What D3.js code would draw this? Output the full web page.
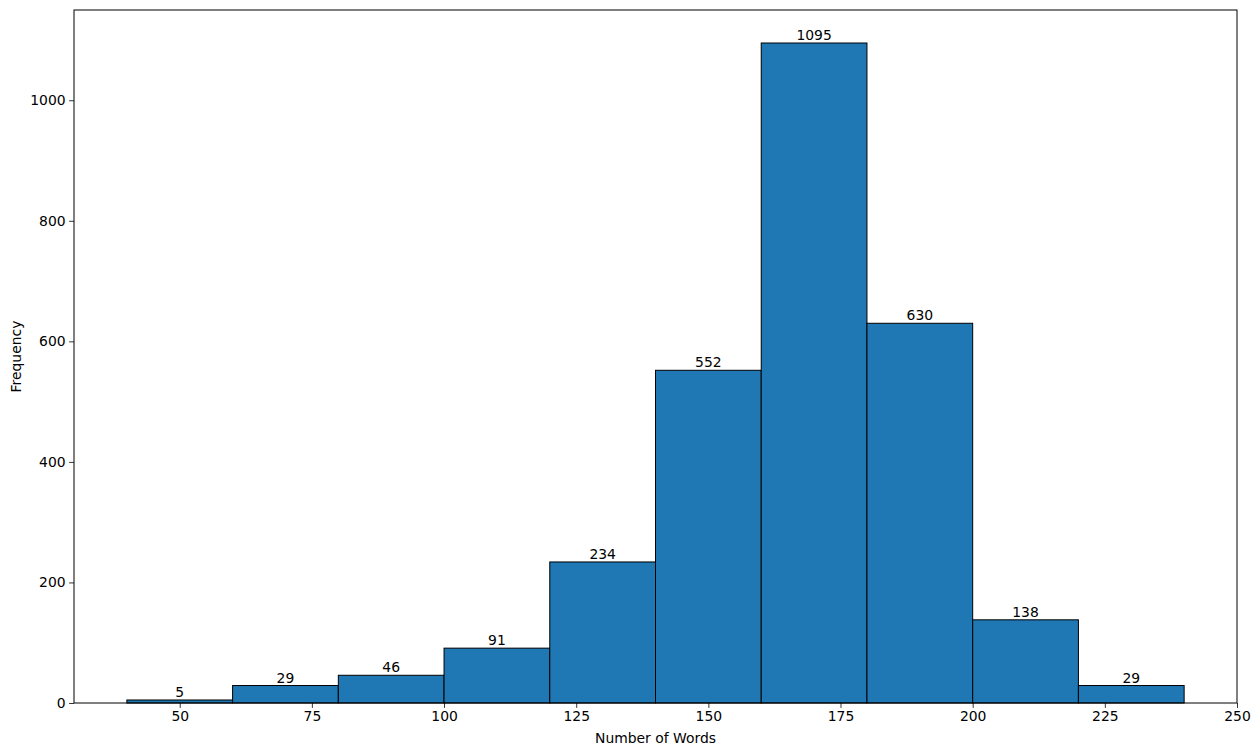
<!DOCTYPE html>
<html><head><meta charset="utf-8">
<script src="https://cdn.jsdelivr.net/npm/d3@7"></script>
<style>body{margin:0;background:#fff}svg{font-family:"DejaVu Sans",sans-serif}</style>
</head><body><svg id="c" width="1260" height="756"></svg>
<script>
const binStarts = [40, 60, 80, 100, 120, 140, 160, 180, 200, 220];
const binWidth = 20;
const counts = [5, 29, 46, 91, 234, 552, 1095, 630, 138, 29];
const xTicks = [50, 75, 100, 125, 150, 175, 200, 225, 250];
const yTicks = [0, 200, 400, 600, 800, 1000];

const FS = 13.9;
const svg = d3.select("#c");
const L = 74, R = 1237, T = 10, B = 703;
const x = d3.scaleLinear().domain([30, 250]).range([L, R]);
const y = d3.scaleLinear().domain([0, 1095 * 1.05]).range([B, T]);

svg.append("g").selectAll("rect").data(binStarts).join("rect")
  .attr("x", (d) => x(d)).attr("width", d => x(d + binWidth) - x(d))
  .attr("y", (d, i) => y(counts[i])).attr("height", (d, i) => y(0) - y(counts[i]))
  .attr("fill", "#1f77b4").attr("stroke", "#000").attr("stroke-width", 1);

svg.append("g").selectAll("text").data(binStarts).join("text")
  .attr("x", d => x(d + binWidth / 2)).attr("y", (d, i) => y(counts[i]) - 3)
  .attr("text-anchor", "middle").attr("font-size", FS).attr("fill", "#000")
  .text((d, i) => counts[i]);

const xa = svg.append("g").attr("transform", `translate(0,${B})`)
  .call(d3.axisBottom(x).tickValues(xTicks).tickFormat(d3.format("d")).tickSize(4.9).tickPadding(3.5).tickSizeOuter(0));
const ya = svg.append("g").attr("transform", `translate(${L},0)`)
  .call(d3.axisLeft(y).tickValues(yTicks).tickFormat(d3.format("d")).tickSize(4.9).tickPadding(3.5).tickSizeOuter(0));
[xa, ya].forEach(a => {
  a.select(".domain").remove();
  a.selectAll("text").attr("font-size", FS).attr("fill", "#000").attr("font-family", "DejaVu Sans");
  a.selectAll("line").attr("stroke", "#000").attr("stroke-width", 0.8);
});

svg.append("rect").attr("x", L).attr("y", T).attr("width", R - L).attr("height", B - T)
  .attr("fill", "none").attr("stroke", "#000").attr("stroke-width", 1);

svg.append("text").attr("x", (L + R) / 2).attr("y", 743).attr("text-anchor", "middle")
  .attr("font-size", FS).text("Number of Words");
svg.append("text").attr("transform", `translate(21,${(T + B) / 2}) rotate(-90)`)
  .attr("text-anchor", "middle").attr("font-size", FS).text("Frequency");
</script></body></html>
